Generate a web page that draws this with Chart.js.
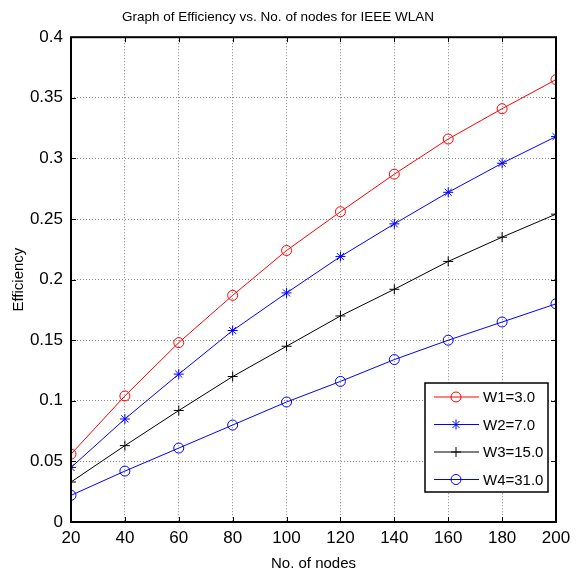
<!DOCTYPE html>
<html>
<head>
<meta charset="utf-8">
<script src="https://cdn.jsdelivr.net/npm/chart.js@4.4.0/dist/chart.umd.min.js"></script>
<style>
  html, body { margin: 0; padding: 0; background: #fff; }
  #wrap { width: 579px; height: 575px; }
</style>
</head>
<body>
<div id="wrap"><canvas id="myChart" width="579" height="575"></canvas></div>
<script>
const nodes = [20, 40, 60, 80, 100, 120, 140, 160, 180, 200];
const w1 = [0.056, 0.104, 0.148, 0.187, 0.224, 0.256, 0.287, 0.316, 0.341, 0.365];
const w2 = [0.045, 0.085, 0.122, 0.158, 0.189, 0.219, 0.246, 0.272, 0.296, 0.318];
const w3 = [0.033, 0.063, 0.092, 0.120, 0.145, 0.170, 0.192, 0.215, 0.235, 0.254];
const w4 = [0.022, 0.042, 0.061, 0.080, 0.099, 0.116, 0.134, 0.150, 0.165, 0.180];
const seriesLabels = ["W1=3.0", "W2=7.0", "W3=15.0", "W4=31.0"];

const FONT = "'Liberation Sans', Arial, sans-serif";

function toPoints(ys) {
    return nodes.map((x, i) => ({ x: x, y: ys[i] }));
}

// frame, inward ticks and the boxed legend
const framePlugin = {
    id: 'frame',
    afterDatasetsDraw(chart) {
        const ctx = chart.ctx;
        const a = chart.chartArea;
        const xs = chart.scales.x, ys = chart.scales.y;
        ctx.save();
        ctx.strokeStyle = '#000';
        ctx.lineWidth = 1;
        ctx.beginPath();
        xs.ticks.forEach((t, i) => {
            const px = Math.round(xs.getPixelForTick(i)) + 0.5;
            ctx.moveTo(px, a.bottom); ctx.lineTo(px, a.bottom - 5);
            ctx.moveTo(px, a.top); ctx.lineTo(px, a.top + 5);
        });
        ys.ticks.forEach((t, i) => {
            const py = Math.round(ys.getPixelForTick(i)) + 0.5;
            ctx.moveTo(a.left, py); ctx.lineTo(a.left + 5, py);
            ctx.moveTo(a.right, py); ctx.lineTo(a.right - 5, py);
        });
        ctx.stroke();
        ctx.lineWidth = 2;
        ctx.strokeRect(a.left, a.top, a.right - a.left, a.bottom - a.top);

        // legend box
        const bw = 123, bh = 109;
        const bx = a.right - 8 - bw, by = a.bottom - 30 - bh;
        ctx.fillStyle = '#fff';
        ctx.fillRect(bx, by, bw, bh);
        ctx.lineWidth = 1.5;
        ctx.strokeRect(bx, by, bw, bh);
        ctx.font = '15px ' + FONT;
        ctx.textBaseline = 'middle';
        chart.data.datasets.forEach((ds, i) => {
            const ry = by + 14 + i * 27.5;
            ctx.strokeStyle = ds.borderColor;
            ctx.lineWidth = 1;
            ctx.beginPath();
            ctx.moveTo(bx + 9, ry); ctx.lineTo(bx + 54, ry);
            ctx.stroke();
            ctx.fillStyle = 'rgba(0,0,0,0)';
            Chart.helpers.drawPoint(ctx, {
                pointStyle: ds.pointStyle, radius: ds.pointRadius, borderWidth: 1
            }, bx + 31, ry);
            ctx.fillStyle = '#000';
            ctx.fillText(ds.label, bx + 58, ry + 1);
        });
        ctx.restore();
    }
};

const fmt = v => String(+Number(v).toFixed(2));

const ctx = document.getElementById('myChart').getContext('2d');
new Chart(ctx, {
    type: 'line',
    data: {
        datasets: [
            { label: seriesLabels[0], data: toPoints(w1), borderColor: '#ff0000', pointStyle: 'circle', pointRadius: 5 },
            { label: seriesLabels[1], data: toPoints(w2), borderColor: '#0000ff', pointStyle: 'star', pointRadius: 5 },
            { label: seriesLabels[2], data: toPoints(w3), borderColor: '#000000', pointStyle: 'cross', pointRadius: 5 },
            { label: seriesLabels[3], data: toPoints(w4), borderColor: '#0000ff', pointStyle: 'circle', pointRadius: 5 }
        ].map(d => Object.assign(d, {
            borderWidth: 1,
            pointBorderColor: d.borderColor,
            pointBackgroundColor: 'rgba(0,0,0,0)',
            pointBorderWidth: 1,
            tension: 0,
            fill: false
        }))
    },
    options: {
        responsive: false,
        animation: false,
        layout: { padding: { left: 0, right: 23, top: 0, bottom: 0 } },
        plugins: {
            legend: { display: false },
            tooltip: { enabled: false },
            title: {
                display: true,
                text: 'Graph of Efficiency vs. No. of nodes for IEEE WLAN',
                color: '#000',
                font: { family: FONT, size: 13.5, weight: 'normal' },
                padding: { top: 9, bottom: 12 }
            }
        },
        scales: {
            x: {
                type: 'linear',
                min: 20, max: 200,
                ticks: { stepSize: 20, color: '#000', font: { family: FONT, size: 17 }, padding: 6, callback: fmt },
                grid: { color: '#888', drawTicks: false, lineWidth: 1 },
                border: { display: false, dash: [1, 2] },
                title: { display: true, text: 'No. of nodes', color: '#000', font: { family: FONT, size: 15 }, padding: { top: 4, bottom: 2 } },
                afterFit(scale) { scale.height = 53; }
            },
            y: {
                min: 0, max: 0.4,
                ticks: { stepSize: 0.05, color: '#000', font: { family: FONT, size: 17 }, padding: 8, callback: fmt },
                grid: { color: '#888', drawTicks: false, lineWidth: 1 },
                border: { display: false, dash: [1, 2] },
                title: { display: true, text: 'Efficiency', color: '#000', font: { family: FONT, size: 15 }, padding: { top: 10, bottom: 0 } },
                afterFit(scale) { scale.width = 71; }
            }
        }
    },
    plugins: [framePlugin]
});
</script>
</body>
</html>
